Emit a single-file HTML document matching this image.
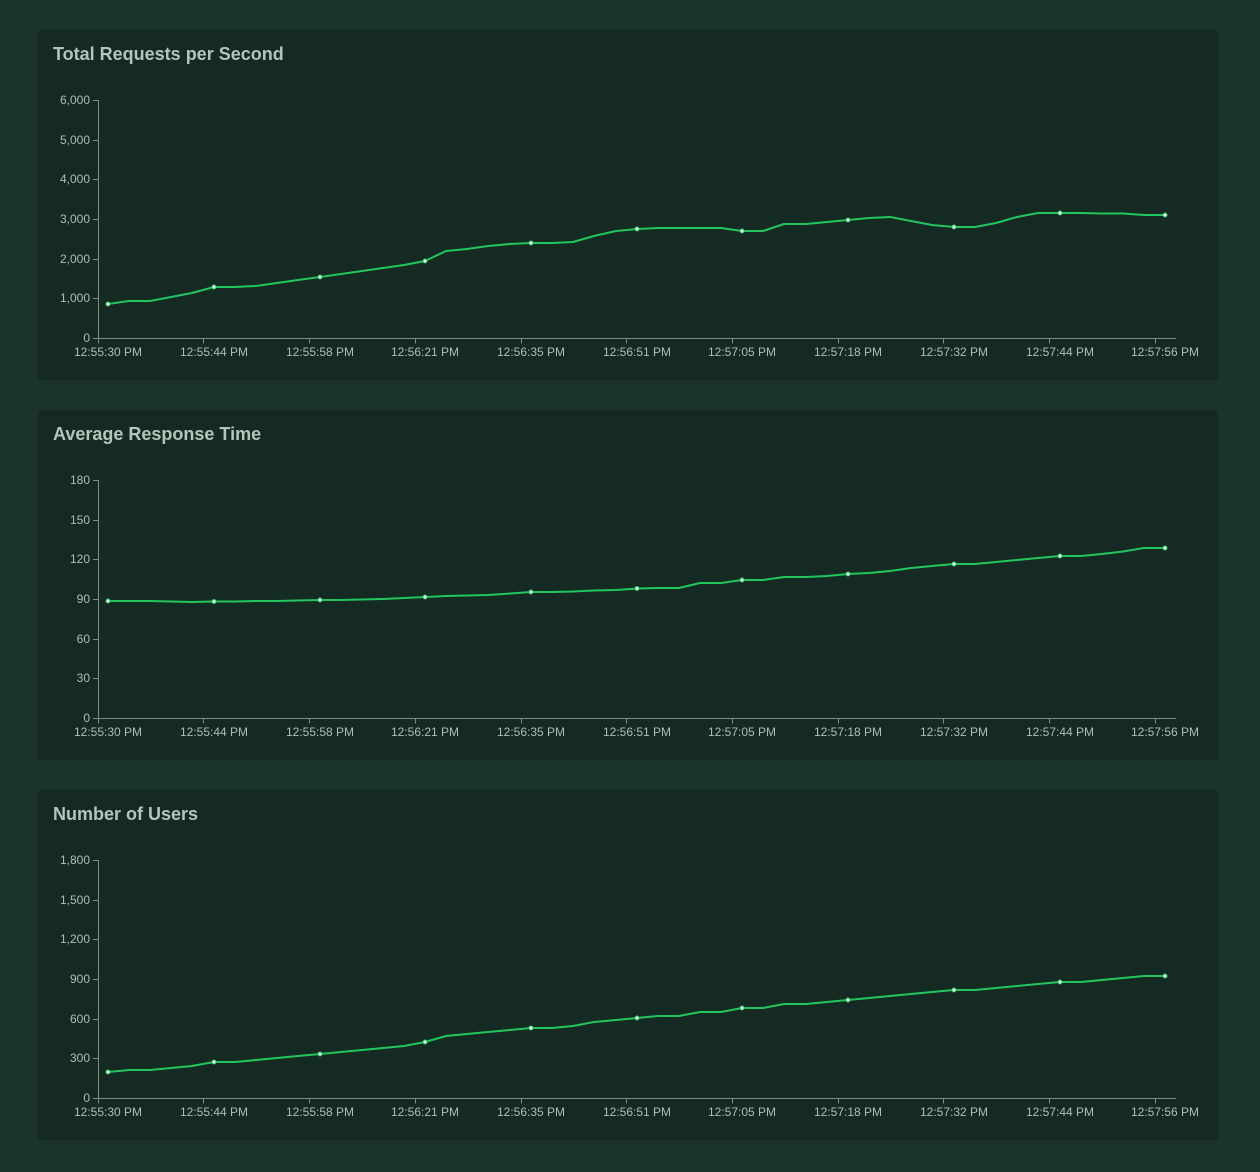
<!DOCTYPE html>
<html><head><meta charset="utf-8"><style>
html,body{margin:0;padding:0;background:#1b3329;}
svg{display:block;}
text{font-family:"Liberation Sans",Arial,sans-serif;}
.t{font-size:18px;font-weight:bold;fill:#b3c6bb;}
.yl{font-size:12px;fill:#b0beb6;text-anchor:end;}
.xl{font-size:12px;fill:#b0beb6;text-anchor:middle;}
.ax{stroke:#7f8f86;stroke-width:1;fill:none;}
.ln{stroke:#22c55e;stroke-width:2;fill:none;stroke-linejoin:round;}
.d{fill:#fff;stroke:#22c55e;stroke-width:1;}
</style></head><body>
<svg width="1260" height="1172" viewBox="0 0 1260 1172">
<defs>
<g id="xax">
<path class="ax" d="M98.5 0.5H1176"/>
<path class="ax" d="M98.5 0.5v5M203.5 0.5v5M309.5 0.5v5M415.5 0.5v5M521.5 0.5v5M626.5 0.5v5M732.5 0.5v5M838.5 0.5v5M943.5 0.5v5M1049.5 0.5v5M1155.5 0.5v5"/>
<text class="xl" x="108" y="18">12:55:30 PM</text>
<text class="xl" x="214" y="18">12:55:44 PM</text>
<text class="xl" x="320" y="18">12:55:58 PM</text>
<text class="xl" x="425" y="18">12:56:21 PM</text>
<text class="xl" x="531" y="18">12:56:35 PM</text>
<text class="xl" x="637" y="18">12:56:51 PM</text>
<text class="xl" x="742" y="18">12:57:05 PM</text>
<text class="xl" x="848" y="18">12:57:18 PM</text>
<text class="xl" x="954" y="18">12:57:32 PM</text>
<text class="xl" x="1060" y="18">12:57:44 PM</text>
<text class="xl" x="1165" y="18">12:57:56 PM</text>
</g>
<g id="yax">
<path class="ax" d="M98.5 0V238M93 0.5h5M93 40.5h5M93 79.5h5M93 119.5h5M93 159.5h5M93 198.5h5M93 238.5h5"/>
</g>
</defs>

<rect x="38" y="30" width="1180" height="350" rx="2" fill="#152a22"/>
<rect x="38" y="410" width="1180" height="350" rx="2" fill="#152a22"/>
<rect x="38" y="790" width="1180" height="350" rx="2" fill="#152a22"/>

<!-- Chart 1 -->
<text class="t" x="53" y="60">Total Requests per Second</text>
<use href="#yax" x="0" y="100"/>
<use href="#xax" x="0" y="338"/>
<text class="yl" x="90" y="104">6,000</text>
<text class="yl" x="90" y="144">5,000</text>
<text class="yl" x="90" y="183">4,000</text>
<text class="yl" x="90" y="223">3,000</text>
<text class="yl" x="90" y="263">2,000</text>
<text class="yl" x="90" y="302">1,000</text>
<text class="yl" x="90" y="342">0</text>
<polyline class="ln" points="108,304 129,301 150,301 171,297 192,293 214,287 235,287 256,286 277,283 298,280 320,277 341,274 362,271 383,268 404,265 425,261 446,251 467,249 488,246 510,244 531,243 552,243 573,242 594,236 616,231 637,229 658,228 679,228 700,228 721,228 742,231 763,231 784,224 806,224 827,222 848,220 869,218 890,217 911,221 932,225 954,227 975,227 996,223 1017,217 1038,213 1060,213 1081,213 1102,213.5 1123,213.5 1144,215 1165,215"/>
<g class="d"><circle cx="108" cy="304" r="2"/><circle cx="214" cy="287" r="2"/><circle cx="320" cy="277" r="2"/><circle cx="425" cy="261" r="2"/><circle cx="531" cy="243" r="2"/><circle cx="637" cy="229" r="2"/><circle cx="742" cy="231" r="2"/><circle cx="848" cy="220" r="2"/><circle cx="954" cy="227" r="2"/><circle cx="1060" cy="213" r="2"/><circle cx="1165" cy="215" r="2"/></g>

<!-- Chart 2 -->
<text class="t" x="53" y="440">Average Response Time</text>
<use href="#yax" x="0" y="480"/>
<use href="#xax" x="0" y="718"/>
<text class="yl" x="90" y="484">180</text>
<text class="yl" x="90" y="524">150</text>
<text class="yl" x="90" y="563">120</text>
<text class="yl" x="90" y="603">90</text>
<text class="yl" x="90" y="643">60</text>
<text class="yl" x="90" y="682">30</text>
<text class="yl" x="90" y="722">0</text>
<polyline class="ln" points="108,601 129,601 150,601 171,601.5 192,602 214,601.5 235,601.5 256,601 277,601 298,600.5 320,600 341,600 362,599.5 383,599 404,598 425,597 446,596 467,595.5 488,595 510,593.5 531,592 552,592 573,591.5 594,590.5 616,590 637,588.5 658,588 679,588 700,583 721,583 742,580 763,580 784,577 806,577 827,576 848,574 869,573 890,571 911,568 932,566 954,564 975,564 996,562 1017,560 1038,558 1060,556 1081,556 1102,554 1123,551.5 1144,548 1165,548"/>
<g class="d"><circle cx="108" cy="601" r="2"/><circle cx="214" cy="601.5" r="2"/><circle cx="320" cy="600" r="2"/><circle cx="425" cy="597" r="2"/><circle cx="531" cy="592" r="2"/><circle cx="637" cy="588.5" r="2"/><circle cx="742" cy="580" r="2"/><circle cx="848" cy="574" r="2"/><circle cx="954" cy="564" r="2"/><circle cx="1060" cy="556" r="2"/><circle cx="1165" cy="548" r="2"/></g>

<!-- Chart 3 -->
<text class="t" x="53" y="820">Number of Users</text>
<use href="#yax" x="0" y="860"/>
<use href="#xax" x="0" y="1098"/>
<text class="yl" x="90" y="864">1,800</text>
<text class="yl" x="90" y="904">1,500</text>
<text class="yl" x="90" y="943">1,200</text>
<text class="yl" x="90" y="983">900</text>
<text class="yl" x="90" y="1023">600</text>
<text class="yl" x="90" y="1062">300</text>
<text class="yl" x="90" y="1102">0</text>
<polyline class="ln" points="108,1072 129,1070 150,1070 171,1068 192,1066 214,1062 235,1062 256,1060 277,1058 298,1056 320,1054 341,1052 362,1050 383,1048 404,1046 425,1042 446,1036 467,1034 488,1032 510,1030 531,1028 552,1028 573,1026 594,1022 616,1020 637,1018 658,1016 679,1016 700,1012 721,1012 742,1008 763,1008 784,1004 806,1004 827,1002 848,1000 869,998 890,996 911,994 932,992 954,990 975,990 996,988 1017,986 1038,984 1060,982 1081,982 1102,980 1123,978 1144,976 1165,976"/>
<g class="d"><circle cx="108" cy="1072" r="2"/><circle cx="214" cy="1062" r="2"/><circle cx="320" cy="1054" r="2"/><circle cx="425" cy="1042" r="2"/><circle cx="531" cy="1028" r="2"/><circle cx="637" cy="1018" r="2"/><circle cx="742" cy="1008" r="2"/><circle cx="848" cy="1000" r="2"/><circle cx="954" cy="990" r="2"/><circle cx="1060" cy="982" r="2"/><circle cx="1165" cy="976" r="2"/></g>
</svg>
</body></html>
